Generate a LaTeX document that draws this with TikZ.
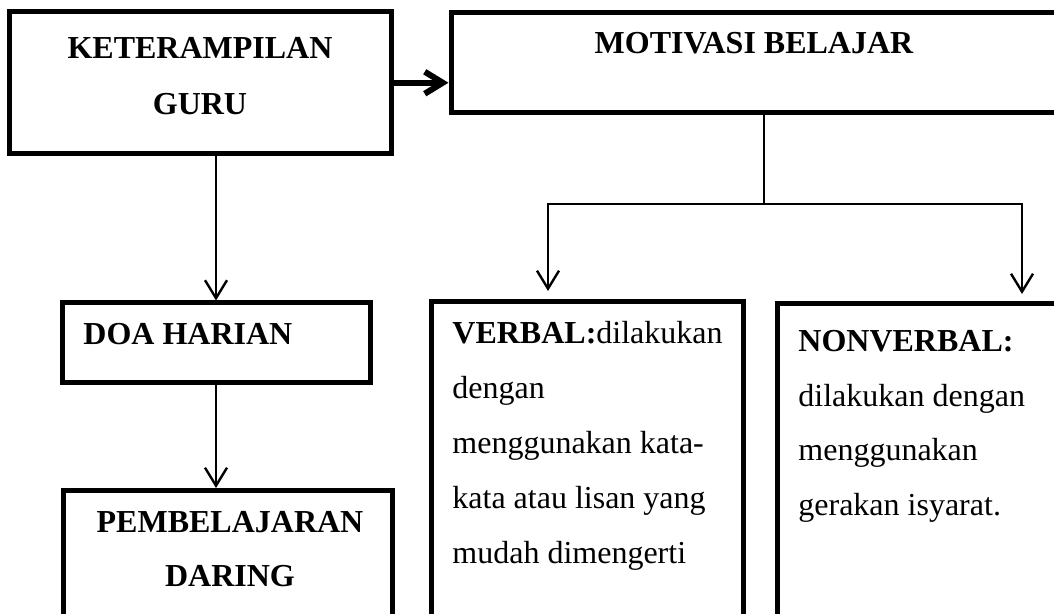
\documentclass[tikz,border=0pt]{standalone}
\usepackage{fontspec}
\setmainfont{Liberation Serif}
\usetikzlibrary{arrows.meta}

\begin{document}
\begin{tikzpicture}[x=0.5pt,y=-0.5pt,
box/.style={draw,line width=2.5pt,inner sep=0pt},
hd/.style={font=\fontsize{16}{28}\selectfont\bfseries,inner sep=0pt,align=center,anchor=base},
body/.style={font=\fontsize{16}{27.5}\selectfont,inner sep=0pt,align=left,anchor=base west},
line/.style={line width=1.2pt},
arr/.style={line,-{Straight Barb[length=9pt,width=11pt]}},
bigarr/.style={line width=3pt,-{Straight Barb[length=9pt,width=11pt]}}]
\useasboundingbox (0,0) rectangle (1054,614);
% boxes
\node[box,minimum width=191.25pt,minimum height=70.75pt] (ket) at (200.25,82.75) {};
\node[box,minimum width=313pt,minimum height=50pt] (mot) at (764,62.5) {};
\node[box,minimum width=154pt,minimum height=40pt] (doa) at (216,343) {};
\node[box,minimum width=164.75pt,minimum height=74.75pt] (pemb) at (227.75,565.25) {};
\node[box,minimum width=156.25pt,minimum height=169.25pt] (verb) at (587.25,470.75) {};
\node[box,minimum width=156.5pt,minimum height=168.25pt] (nonv) at (933.5,471.75) {};
% texts (base = last line)
\node[hd] (ketT) at (200,115) {KETERAMPILAN\\GURU};
\node[hd] (motT) at (754,54) {MOTIVASI BELAJAR};
\node[hd,anchor=base west] (doaT) at (83,345) {DOA HARIAN};
\node[hd,font=\fontsize{16}{27.25}\selectfont\bfseries] (pembT) at (230,586.5) {PEMBELAJARAN\\DARING};
\node[body] (verbT) at (452,563.3) {\textbf{VERBAL:}dilakukan\\dengan\\menggunakan kata-\\kata atau lisan yang\\mudah dimengerti};
\node[body,font=\fontsize{16}{27.2}\selectfont] (nonvT) at (798,515) {\textbf{NONVERBAL:}\\dilakukan dengan\\menggunakan\\gerakan isyarat.};
% connectors
\coordinate (fork) at (764,204);
\coordinate (forkL) at (548,204);
\coordinate (forkR) at (1022,204);
\draw[bigarr] (ket.east) -- (ket.east -| mot.west);
\draw[arr] (doa.north |- ket.south) -- (doa.north);
\draw[arr] (doa.south) -- (doa.south |- pemb.north);
\draw[line] (mot.south) -- (fork);
\draw[arr,shorten >=4pt] (fork) -| (forkL |- verb.north);
\draw[arr,shorten >=3.5pt] (fork) -| (forkR |- nonv.north);
\end{tikzpicture}
\end{document}
